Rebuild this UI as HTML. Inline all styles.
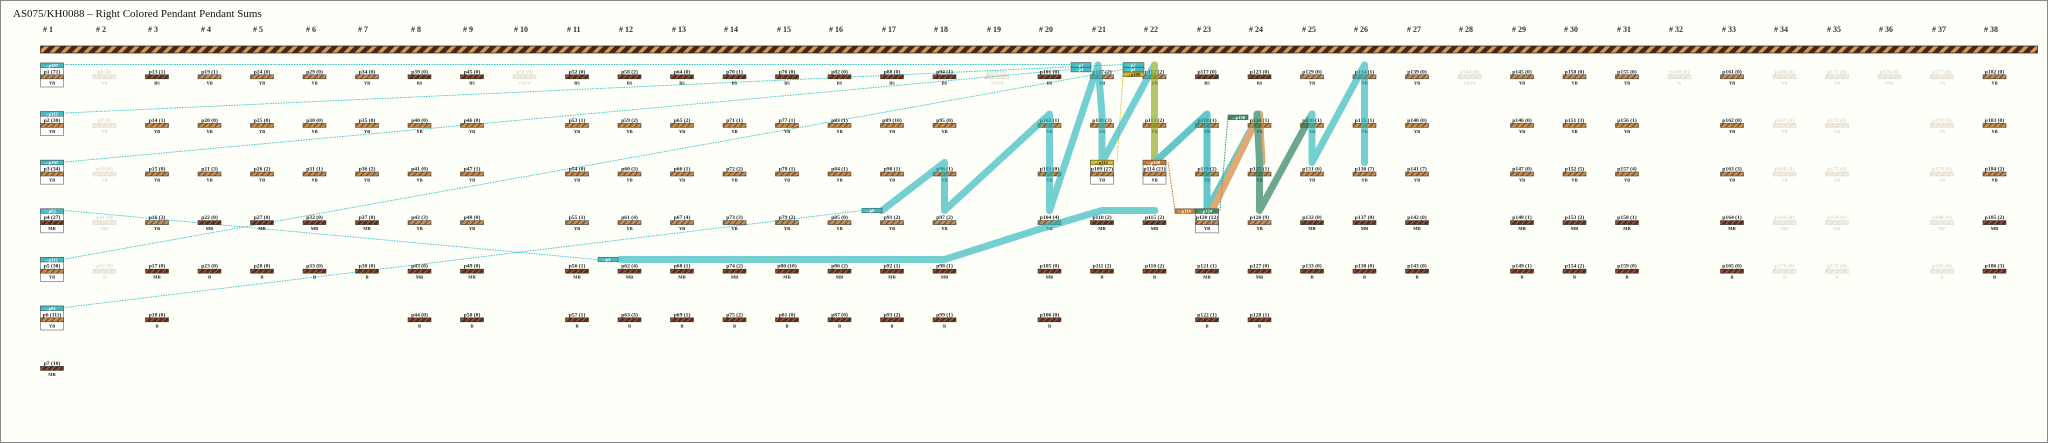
<!DOCTYPE html>
<html><head><meta charset="utf-8"><style>
body{margin:0;background:#fff}
svg{display:block}
text{font-family:"Liberation Serif",serif}
.l{font-size:5.6px;font-weight:bold;text-anchor:middle;fill:#222}
.c{font-size:4.6px;font-weight:bold;text-anchor:middle;fill:#222}
.h{font-size:8px;font-weight:bold;fill:#333}
.t{font-size:4.6px;fill:#fff;font-weight:bold}
.f{opacity:.18}
</style></head><body>
<svg width="2048" height="443" viewBox="0 0 2048 443" xmlns="http://www.w3.org/2000/svg">
<defs>
<pattern id="py" width="4" height="4" patternUnits="userSpaceOnUse" patternTransform="rotate(45)"><rect width="4" height="4" fill="#c99250"/><rect width="1.3" height="4" fill="#7a4e28"/></pattern>
<pattern id="pd" width="4" height="4" patternUnits="userSpaceOnUse" patternTransform="rotate(45)"><rect width="4" height="4" fill="#5a2c18"/><rect width="1.3" height="4" fill="#9a6238"/></pattern>
<pattern id="pc" width="8" height="8" patternUnits="userSpaceOnUse" patternTransform="rotate(45)"><rect width="8" height="8" fill="#4a2614"/><rect width="3.5" height="8" fill="#d09a58"/></pattern>
<rect id="by" x="-11.5" y="3.5" width="23" height="4" fill="url(#py)" stroke="#444" stroke-width=".6"/>
<rect id="bd" x="-11.5" y="3.5" width="23" height="4" fill="url(#pd)" stroke="#333" stroke-width=".6"/>
</defs>
<rect x="0.5" y="0.5" width="2047" height="442" fill="#fffff9" stroke="#888"/>
<text x="13" y="17" style="font-size:11px;fill:#111">AS075/KH0088 – Right Colored Pendant Pendant Sums</text>
<g class="h">
<text x="43" y="32"># 1</text><text x="96" y="32"># 2</text><text x="148" y="32"># 3</text><text x="201" y="32"># 4</text><text x="253" y="32"># 5</text><text x="306" y="32"># 6</text><text x="358" y="32"># 7</text><text x="411" y="32"># 8</text><text x="463" y="32"># 9</text><text x="514" y="32"># 10</text><text x="567" y="32"># 11</text><text x="619" y="32"># 12</text><text x="672" y="32"># 13</text><text x="724" y="32"># 14</text><text x="777" y="32"># 15</text><text x="829" y="32"># 16</text><text x="882" y="32"># 17</text><text x="934" y="32"># 18</text><text x="987" y="32"># 19</text><text x="1039" y="32"># 20</text><text x="1092" y="32"># 21</text><text x="1144" y="32"># 22</text><text x="1197" y="32"># 23</text><text x="1249" y="32"># 24</text><text x="1302" y="32"># 25</text><text x="1354" y="32"># 26</text><text x="1407" y="32"># 27</text><text x="1459" y="32"># 28</text><text x="1512" y="32"># 29</text><text x="1564" y="32"># 30</text><text x="1617" y="32"># 31</text><text x="1669" y="32"># 32</text><text x="1722" y="32"># 33</text><text x="1774" y="32"># 34</text><text x="1827" y="32"># 35</text><text x="1879" y="32"># 36</text><text x="1932" y="32"># 37</text><text x="1984" y="32"># 38</text>
</g>
<rect x="40.5" y="46" width="1997" height="7" fill="url(#pc)" stroke="#333" stroke-width=".8"/>

<!-- col1 boxes -->
<g fill="#fff" stroke="#888" stroke-width=".8">
<rect x="40.5" y="63" width="23" height="24"/><rect x="40.5" y="111.6" width="23" height="24"/><rect x="40.5" y="160.2" width="23" height="24"/><rect x="40.5" y="208.8" width="23" height="24"/><rect x="40.5" y="257.4" width="23" height="24"/><rect x="40.5" y="306" width="23" height="24"/>
<rect x="1090.5" y="160.2" width="23" height="24"/><rect x="1143" y="160.2" width="23" height="24"/><rect x="1195.5" y="208.8" width="23" height="24"/>
</g>

<!-- dotted connectors -->
<g fill="none" stroke="#3cc4c8" stroke-width=".9" stroke-dasharray="1.6 1">
<path d="M65 64.5 L1070 64.5"/><path d="M65 113 L1123 64.5"/><path d="M65 162 L1070 69.5"/><path d="M65 210.5 L597 259.5"/><path d="M65 259 L1123 69.5"/><path d="M65 307.5 L862 210.5"/>
</g>
<path d="M1123 75 L1117 162" stroke="#e0c020" stroke-width=".9" stroke-dasharray="1.6 1" fill="none"/>
<path d="M1168 162 L1175 210.5" stroke="#c06820" stroke-width=".9" stroke-dasharray="1.6 1" fill="none"/>
<path d="M1220 210.5 L1228 117" stroke="#2e8a6a" stroke-width=".9" stroke-dasharray="1.6 1" fill="none"/>

<!-- pendants -->
<g id="pend">
<g transform="translate(52,71.3)"><text class="l" y="2">p1 (71)</text><use href="#by"/><text class="c" y="13">YB</text></g>
<g transform="translate(52,119.9)"><text class="l" y="2">p2 (30)</text><use href="#by"/><text class="c" y="13">YB</text></g>
<g transform="translate(52,168.5)"><text class="l" y="2">p3 (34)</text><use href="#by"/><text class="c" y="13">YB</text></g>
<g transform="translate(52,217.1)"><text class="l" y="2">p4 (27)</text><use href="#bd"/><text class="c" y="13">MB</text></g>
<g transform="translate(52,265.7)"><text class="l" y="2">p5 (30)</text><use href="#by"/><text class="c" y="13">YB</text></g>
<g transform="translate(52,314.3)"><text class="l" y="2">p6 (111)</text><use href="#by"/><text class="c" y="13">YB</text></g>
<g transform="translate(52,362.9)"><text class="l" y="2">p7 (10)</text><use href="#bd"/><text class="c" y="13">MB</text></g>
<g class="f">
<g transform="translate(104.5,71.3)"><text class="l" y="2">p8 (0)</text><use href="#by"/><text class="c" y="13">YB</text></g>
<g transform="translate(104.5,119.9)"><text class="l" y="2">p9 (0)</text><use href="#by"/><text class="c" y="13">YB</text></g>
<g transform="translate(104.5,168.5)"><text class="l" y="2">p10 (0)</text><use href="#by"/><text class="c" y="13">YB</text></g>
<g transform="translate(104.5,217.1)"><text class="l" y="2">p11 (0)</text><use href="#by"/><text class="c" y="13">MB</text></g>
<g transform="translate(104.5,265.7)"><text class="l" y="2">p12 (0)</text><use href="#by"/><text class="c" y="13">B</text></g>
<g transform="translate(524.5,71.3)"><text class="l" y="2">p51 (0)</text><use href="#by"/><text class="c" y="13">YBYB</text></g>
<g transform="translate(997,71.3)"><text class="l" y="2">p100 (0)</text><use href="#by"/><text class="c" y="13">YBYB</text></g>
<g transform="translate(1469.5,71.3)"><text class="l" y="2">p144 (0)</text><use href="#by"/><text class="c" y="13">YBYB</text></g>
<g transform="translate(1679.5,71.3)"><text class="l" y="2">p160 (0)</text><use href="#by"/><text class="c" y="13">B</text></g>
<g transform="translate(1784.5,71.3)"><text class="l" y="2">p166 (0)</text><use href="#by"/><text class="c" y="13">YB</text></g>
<g transform="translate(1784.5,119.9)"><text class="l" y="2">p167 (0)</text><use href="#by"/><text class="c" y="13">YB</text></g>
<g transform="translate(1784.5,168.5)"><text class="l" y="2">p168 (0)</text><use href="#by"/><text class="c" y="13">YB</text></g>
<g transform="translate(1784.5,217.1)"><text class="l" y="2">p169 (0)</text><use href="#by"/><text class="c" y="13">MB</text></g>
<g transform="translate(1784.5,265.7)"><text class="l" y="2">p170 (0)</text><use href="#by"/><text class="c" y="13">B</text></g>
<g transform="translate(1837,71.3)"><text class="l" y="2">p171 (0)</text><use href="#by"/><text class="c" y="13">YB</text></g>
<g transform="translate(1837,119.9)"><text class="l" y="2">p172 (0)</text><use href="#by"/><text class="c" y="13">YB</text></g>
<g transform="translate(1837,168.5)"><text class="l" y="2">p173 (0)</text><use href="#by"/><text class="c" y="13">YB</text></g>
<g transform="translate(1837,217.1)"><text class="l" y="2">p174 (0)</text><use href="#by"/><text class="c" y="13">MB</text></g>
<g transform="translate(1837,265.7)"><text class="l" y="2">p175 (0)</text><use href="#by"/><text class="c" y="13">B</text></g>
<g transform="translate(1889.5,71.3)"><text class="l" y="2">p176 (0)</text><use href="#by"/><text class="c" y="13">YBB</text></g>
<g transform="translate(1942,71.3)"><text class="l" y="2">p177 (0)</text><use href="#by"/><text class="c" y="13">YB</text></g>
<g transform="translate(1942,119.9)"><text class="l" y="2">p178 (0)</text><use href="#by"/><text class="c" y="13">YB</text></g>
<g transform="translate(1942,168.5)"><text class="l" y="2">p179 (0)</text><use href="#by"/><text class="c" y="13">YB</text></g>
<g transform="translate(1942,217.1)"><text class="l" y="2">p180 (0)</text><use href="#by"/><text class="c" y="13">MB</text></g>
<g transform="translate(1942,265.7)"><text class="l" y="2">p181 (0)</text><use href="#by"/><text class="c" y="13">B</text></g>
</g>
<!-- col3 -->
<g transform="translate(157,71.3)"><text class="l" y="2">p13 (1)</text><use href="#bd"/><text class="c" y="13">BS</text></g>
<g transform="translate(157,119.9)"><text class="l" y="2">p14 (1)</text><use href="#by"/><text class="c" y="13">YB</text></g>
<g transform="translate(157,168.5)"><text class="l" y="2">p15 (0)</text><use href="#by"/><text class="c" y="13">YB</text></g>
<g transform="translate(157,217.1)"><text class="l" y="2">p16 (3)</text><use href="#by"/><text class="c" y="13">YB</text></g>
<g transform="translate(157,265.7)"><text class="l" y="2">p17 (0)</text><use href="#bd"/><text class="c" y="13">MB</text></g>
<g transform="translate(157,314.3)"><text class="l" y="2">p18 (0)</text><use href="#bd"/><text class="c" y="13">B</text></g>
<!-- col4 -->
<g transform="translate(209.5,71.3)"><text class="l" y="2">p19 (1)</text><use href="#by"/><text class="c" y="13">YB</text></g>
<g transform="translate(209.5,119.9)"><text class="l" y="2">p20 (0)</text><use href="#by"/><text class="c" y="13">YB</text></g>
<g transform="translate(209.5,168.5)"><text class="l" y="2">p21 (3)</text><use href="#by"/><text class="c" y="13">YB</text></g>
<g transform="translate(209.5,217.1)"><text class="l" y="2">p22 (0)</text><use href="#bd"/><text class="c" y="13">MB</text></g>
<g transform="translate(209.5,265.7)"><text class="l" y="2">p23 (0)</text><use href="#bd"/><text class="c" y="13">B</text></g>
<!-- col5 -->
<g transform="translate(262,71.3)"><text class="l" y="2">p24 (0)</text><use href="#by"/><text class="c" y="13">YB</text></g>
<g transform="translate(262,119.9)"><text class="l" y="2">p25 (0)</text><use href="#by"/><text class="c" y="13">YB</text></g>
<g transform="translate(262,168.5)"><text class="l" y="2">p26 (2)</text><use href="#by"/><text class="c" y="13">YB</text></g>
<g transform="translate(262,217.1)"><text class="l" y="2">p27 (0)</text><use href="#bd"/><text class="c" y="13">MB</text></g>
<g transform="translate(262,265.7)"><text class="l" y="2">p28 (0)</text><use href="#bd"/><text class="c" y="13">B</text></g>
<!-- col6 -->
<g transform="translate(314.5,71.3)"><text class="l" y="2">p29 (0)</text><use href="#by"/><text class="c" y="13">YB</text></g>
<g transform="translate(314.5,119.9)"><text class="l" y="2">p30 (0)</text><use href="#by"/><text class="c" y="13">YB</text></g>
<g transform="translate(314.5,168.5)"><text class="l" y="2">p31 (1)</text><use href="#by"/><text class="c" y="13">YB</text></g>
<g transform="translate(314.5,217.1)"><text class="l" y="2">p32 (0)</text><use href="#bd"/><text class="c" y="13">MB</text></g>
<g transform="translate(314.5,265.7)"><text class="l" y="2">p33 (0)</text><use href="#bd"/><text class="c" y="13">B</text></g>
<!-- col7 -->
<g transform="translate(367,71.3)"><text class="l" y="2">p34 (0)</text><use href="#by"/><text class="c" y="13">YB</text></g>
<g transform="translate(367,119.9)"><text class="l" y="2">p35 (0)</text><use href="#by"/><text class="c" y="13">YB</text></g>
<g transform="translate(367,168.5)"><text class="l" y="2">p36 (2)</text><use href="#by"/><text class="c" y="13">YB</text></g>
<g transform="translate(367,217.1)"><text class="l" y="2">p37 (0)</text><use href="#bd"/><text class="c" y="13">MB</text></g>
<g transform="translate(367,265.7)"><text class="l" y="2">p38 (0)</text><use href="#bd"/><text class="c" y="13">B</text></g>
<!-- col8 -->
<g transform="translate(419.5,71.3)"><text class="l" y="2">p39 (0)</text><use href="#bd"/><text class="c" y="13">BS</text></g>
<g transform="translate(419.5,119.9)"><text class="l" y="2">p40 (0)</text><use href="#by"/><text class="c" y="13">YB</text></g>
<g transform="translate(419.5,168.5)"><text class="l" y="2">p41 (0)</text><use href="#by"/><text class="c" y="13">YB</text></g>
<g transform="translate(419.5,217.1)"><text class="l" y="2">p42 (3)</text><use href="#by"/><text class="c" y="13">YB</text></g>
<g transform="translate(419.5,265.7)"><text class="l" y="2">p43 (0)</text><use href="#bd"/><text class="c" y="13">MB</text></g>
<g transform="translate(419.5,314.3)"><text class="l" y="2">p44 (0)</text><use href="#bd"/><text class="c" y="13">B</text></g>
<!-- col9 -->
<g transform="translate(472,71.3)"><text class="l" y="2">p45 (0)</text><use href="#bd"/><text class="c" y="13">BS</text></g>
<g transform="translate(472,119.9)"><text class="l" y="2">p46 (0)</text><use href="#by"/><text class="c" y="13">YB</text></g>
<g transform="translate(472,168.5)"><text class="l" y="2">p47 (1)</text><use href="#by"/><text class="c" y="13">YB</text></g>
<g transform="translate(472,217.1)"><text class="l" y="2">p48 (0)</text><use href="#by"/><text class="c" y="13">YB</text></g>
<g transform="translate(472,265.7)"><text class="l" y="2">p49 (0)</text><use href="#bd"/><text class="c" y="13">MB</text></g>
<g transform="translate(472,314.3)"><text class="l" y="2">p50 (0)</text><use href="#bd"/><text class="c" y="13">B</text></g>
<!-- col11 -->
<g transform="translate(577,71.3)"><text class="l" y="2">p52 (0)</text><use href="#bd"/><text class="c" y="13">BS</text></g>
<g transform="translate(577,119.9)"><text class="l" y="2">p53 (1)</text><use href="#by"/><text class="c" y="13">YB</text></g>
<g transform="translate(577,168.5)"><text class="l" y="2">p54 (0)</text><use href="#by"/><text class="c" y="13">YB</text></g>
<g transform="translate(577,217.1)"><text class="l" y="2">p55 (1)</text><use href="#by"/><text class="c" y="13">YB</text></g>
<g transform="translate(577,265.7)"><text class="l" y="2">p56 (1)</text><use href="#bd"/><text class="c" y="13">MB</text></g>
<g transform="translate(577,314.3)"><text class="l" y="2">p57 (1)</text><use href="#bd"/><text class="c" y="13">B</text></g>
<!-- col12 -->
<g transform="translate(629.5,71.3)"><text class="l" y="2">p58 (2)</text><use href="#bd"/><text class="c" y="13">BS</text></g>
<g transform="translate(629.5,119.9)"><text class="l" y="2">p59 (2)</text><use href="#by"/><text class="c" y="13">YB</text></g>
<g transform="translate(629.5,168.5)"><text class="l" y="2">p60 (3)</text><use href="#by"/><text class="c" y="13">YB</text></g>
<g transform="translate(629.5,217.1)"><text class="l" y="2">p61 (4)</text><use href="#by"/><text class="c" y="13">YB</text></g>
<g transform="translate(629.5,265.7)"><text class="l" y="2">p62 (4)</text><use href="#bd"/><text class="c" y="13">MB</text></g>
<g transform="translate(629.5,314.3)"><text class="l" y="2">p63 (3)</text><use href="#bd"/><text class="c" y="13">B</text></g>
<!-- col13 -->
<g transform="translate(682,71.3)"><text class="l" y="2">p64 (0)</text><use href="#bd"/><text class="c" y="13">BS</text></g>
<g transform="translate(682,119.9)"><text class="l" y="2">p65 (2)</text><use href="#by"/><text class="c" y="13">YB</text></g>
<g transform="translate(682,168.5)"><text class="l" y="2">p66 (1)</text><use href="#by"/><text class="c" y="13">YB</text></g>
<g transform="translate(682,217.1)"><text class="l" y="2">p67 (4)</text><use href="#by"/><text class="c" y="13">YB</text></g>
<g transform="translate(682,265.7)"><text class="l" y="2">p68 (1)</text><use href="#bd"/><text class="c" y="13">MB</text></g>
<g transform="translate(682,314.3)"><text class="l" y="2">p69 (1)</text><use href="#bd"/><text class="c" y="13">B</text></g>
<!-- col14 -->
<g transform="translate(734.5,71.3)"><text class="l" y="2">p70 (1)</text><use href="#bd"/><text class="c" y="13">BS</text></g>
<g transform="translate(734.5,119.9)"><text class="l" y="2">p71 (1)</text><use href="#by"/><text class="c" y="13">YB</text></g>
<g transform="translate(734.5,168.5)"><text class="l" y="2">p72 (2)</text><use href="#by"/><text class="c" y="13">YB</text></g>
<g transform="translate(734.5,217.1)"><text class="l" y="2">p73 (3)</text><use href="#by"/><text class="c" y="13">YB</text></g>
<g transform="translate(734.5,265.7)"><text class="l" y="2">p74 (2)</text><use href="#bd"/><text class="c" y="13">MB</text></g>
<g transform="translate(734.5,314.3)"><text class="l" y="2">p75 (2)</text><use href="#bd"/><text class="c" y="13">B</text></g>
<!-- col15 -->
<g transform="translate(787,71.3)"><text class="l" y="2">p76 (0)</text><use href="#bd"/><text class="c" y="13">BS</text></g>
<g transform="translate(787,119.9)"><text class="l" y="2">p77 (1)</text><use href="#by"/><text class="c" y="13">YB</text></g>
<g transform="translate(787,168.5)"><text class="l" y="2">p78 (1)</text><use href="#by"/><text class="c" y="13">YB</text></g>
<g transform="translate(787,217.1)"><text class="l" y="2">p79 (2)</text><use href="#by"/><text class="c" y="13">YB</text></g>
<g transform="translate(787,265.7)"><text class="l" y="2">p80 (10)</text><use href="#bd"/><text class="c" y="13">MB</text></g>
<g transform="translate(787,314.3)"><text class="l" y="2">p81 (0)</text><use href="#bd"/><text class="c" y="13">B</text></g>
<!-- col16 -->
<g transform="translate(839.5,71.3)"><text class="l" y="2">p82 (0)</text><use href="#bd"/><text class="c" y="13">BS</text></g>
<g transform="translate(839.5,119.9)"><text class="l" y="2">p83 (1)</text><use href="#by"/><text class="c" y="13">YB</text></g>
<g transform="translate(839.5,168.5)"><text class="l" y="2">p84 (1)</text><use href="#by"/><text class="c" y="13">YB</text></g>
<g transform="translate(839.5,217.1)"><text class="l" y="2">p85 (0)</text><use href="#by"/><text class="c" y="13">YB</text></g>
<g transform="translate(839.5,265.7)"><text class="l" y="2">p86 (2)</text><use href="#bd"/><text class="c" y="13">MB</text></g>
<g transform="translate(839.5,314.3)"><text class="l" y="2">p87 (0)</text><use href="#bd"/><text class="c" y="13">B</text></g>
<!-- col17 -->
<g transform="translate(892,71.3)"><text class="l" y="2">p88 (0)</text><use href="#bd"/><text class="c" y="13">BS</text></g>
<g transform="translate(892,119.9)"><text class="l" y="2">p89 (10)</text><use href="#by"/><text class="c" y="13">YB</text></g>
<g transform="translate(892,168.5)"><text class="l" y="2">p90 (1)</text><use href="#by"/><text class="c" y="13">YB</text></g>
<g transform="translate(892,217.1)"><text class="l" y="2">p91 (2)</text><use href="#by"/><text class="c" y="13">YB</text></g>
<g transform="translate(892,265.7)"><text class="l" y="2">p92 (1)</text><use href="#bd"/><text class="c" y="13">MB</text></g>
<g transform="translate(892,314.3)"><text class="l" y="2">p93 (2)</text><use href="#bd"/><text class="c" y="13">B</text></g>
<!-- col18 -->
<g transform="translate(944.5,71.3)"><text class="l" y="2">p94 (1)</text><use href="#bd"/><text class="c" y="13">BS</text></g>
<g transform="translate(944.5,119.9)"><text class="l" y="2">p95 (0)</text><use href="#by"/><text class="c" y="13">YB</text></g>
<g transform="translate(944.5,168.5)"><text class="l" y="2">p96 (1)</text><use href="#by"/><text class="c" y="13">YB</text></g>
<g transform="translate(944.5,217.1)"><text class="l" y="2">p97 (2)</text><use href="#by"/><text class="c" y="13">YB</text></g>
<g transform="translate(944.5,265.7)"><text class="l" y="2">p98 (1)</text><use href="#bd"/><text class="c" y="13">MB</text></g>
<g transform="translate(944.5,314.3)"><text class="l" y="2">p99 (1)</text><use href="#bd"/><text class="c" y="13">B</text></g>
<!-- col20 -->
<g transform="translate(1049.5,71.3)"><text class="l" y="2">p101 (0)</text><use href="#bd"/><text class="c" y="13">BS</text></g>
<g transform="translate(1049.5,119.9)"><text class="l" y="2">p102 (1)</text><use href="#by"/><text class="c" y="13">YB</text></g>
<g transform="translate(1049.5,168.5)"><text class="l" y="2">p103 (0)</text><use href="#by"/><text class="c" y="13">YB</text></g>
<g transform="translate(1049.5,217.1)"><text class="l" y="2">p104 (4)</text><use href="#by"/><text class="c" y="13">YB</text></g>
<g transform="translate(1049.5,265.7)"><text class="l" y="2">p105 (0)</text><use href="#bd"/><text class="c" y="13">MB</text></g>
<g transform="translate(1049.5,314.3)"><text class="l" y="2">p106 (0)</text><use href="#bd"/><text class="c" y="13">B</text></g>
<!-- col21 -->
<g transform="translate(1102,71.3)"><text class="l" y="2">p107 (2)</text><use href="#by"/><text class="c" y="13">YB</text></g>
<g transform="translate(1102,119.9)"><text class="l" y="2">p108 (3)</text><use href="#by"/><text class="c" y="13">YB</text></g>
<g transform="translate(1102,168.5)"><text class="l" y="2">p109 (27)</text><use href="#by"/><text class="c" y="13">YB</text></g>
<g transform="translate(1102,217.1)"><text class="l" y="2">p110 (2)</text><use href="#bd"/><text class="c" y="13">MB</text></g>
<g transform="translate(1102,265.7)"><text class="l" y="2">p111 (2)</text><use href="#bd"/><text class="c" y="13">B</text></g>
<!-- col22 -->
<g transform="translate(1154.5,71.3)"><text class="l" y="2">p112 (2)</text><use href="#by"/><text class="c" y="13">YB</text></g>
<g transform="translate(1154.5,119.9)"><text class="l" y="2">p113 (2)</text><use href="#by"/><text class="c" y="13">YB</text></g>
<g transform="translate(1154.5,168.5)"><text class="l" y="2">p114 (21)</text><use href="#by"/><text class="c" y="13">YB</text></g>
<g transform="translate(1154.5,217.1)"><text class="l" y="2">p115 (2)</text><use href="#bd"/><text class="c" y="13">MB</text></g>
<g transform="translate(1154.5,265.7)"><text class="l" y="2">p116 (2)</text><use href="#bd"/><text class="c" y="13">B</text></g>
<!-- col23 -->
<g transform="translate(1207,71.3)"><text class="l" y="2">p117 (0)</text><use href="#bd"/><text class="c" y="13">BS</text></g>
<g transform="translate(1207,119.9)"><text class="l" y="2">p118 (1)</text><use href="#by"/><text class="c" y="13">YB</text></g>
<g transform="translate(1207,168.5)"><text class="l" y="2">p119 (2)</text><use href="#by"/><text class="c" y="13">YB</text></g>
<g transform="translate(1207,217.1)"><text class="l" y="2">p120 (12)</text><use href="#by"/><text class="c" y="13">YB</text></g>
<g transform="translate(1207,265.7)"><text class="l" y="2">p121 (1)</text><use href="#bd"/><text class="c" y="13">MB</text></g>
<g transform="translate(1207,314.3)"><text class="l" y="2">p122 (1)</text><use href="#bd"/><text class="c" y="13">B</text></g>
<!-- col24 -->
<g transform="translate(1259.5,71.3)"><text class="l" y="2">p123 (0)</text><use href="#bd"/><text class="c" y="13">BS</text></g>
<g transform="translate(1259.5,119.9)"><text class="l" y="2">p124 (1)</text><use href="#by"/><text class="c" y="13">YB</text></g>
<g transform="translate(1259.5,168.5)"><text class="l" y="2">p125 (1)</text><use href="#by"/><text class="c" y="13">YB</text></g>
<g transform="translate(1259.5,217.1)"><text class="l" y="2">p126 (9)</text><use href="#by"/><text class="c" y="13">YB</text></g>
<g transform="translate(1259.5,265.7)"><text class="l" y="2">p127 (0)</text><use href="#bd"/><text class="c" y="13">MB</text></g>
<g transform="translate(1259.5,314.3)"><text class="l" y="2">p128 (1)</text><use href="#bd"/><text class="c" y="13">B</text></g>
<!-- col25 -->
<g transform="translate(1312,71.3)"><text class="l" y="2">p129 (0)</text><use href="#by"/><text class="c" y="13">YB</text></g>
<g transform="translate(1312,119.9)"><text class="l" y="2">p130 (1)</text><use href="#by"/><text class="c" y="13">YB</text></g>
<g transform="translate(1312,168.5)"><text class="l" y="2">p131 (6)</text><use href="#by"/><text class="c" y="13">YB</text></g>
<g transform="translate(1312,217.1)"><text class="l" y="2">p132 (0)</text><use href="#bd"/><text class="c" y="13">MB</text></g>
<g transform="translate(1312,265.7)"><text class="l" y="2">p133 (0)</text><use href="#bd"/><text class="c" y="13">B</text></g>
<!-- col26 -->
<g transform="translate(1364.5,71.3)"><text class="l" y="2">p134 (1)</text><use href="#by"/><text class="c" y="13">YB</text></g>
<g transform="translate(1364.5,119.9)"><text class="l" y="2">p135 (1)</text><use href="#by"/><text class="c" y="13">YB</text></g>
<g transform="translate(1364.5,168.5)"><text class="l" y="2">p136 (7)</text><use href="#by"/><text class="c" y="13">YB</text></g>
<g transform="translate(1364.5,217.1)"><text class="l" y="2">p137 (0)</text><use href="#bd"/><text class="c" y="13">MB</text></g>
<g transform="translate(1364.5,265.7)"><text class="l" y="2">p138 (0)</text><use href="#bd"/><text class="c" y="13">B</text></g>
<!-- col27 -->
<g transform="translate(1417,71.3)"><text class="l" y="2">p139 (0)</text><use href="#by"/><text class="c" y="13">YB</text></g>
<g transform="translate(1417,119.9)"><text class="l" y="2">p140 (0)</text><use href="#by"/><text class="c" y="13">YB</text></g>
<g transform="translate(1417,168.5)"><text class="l" y="2">p141 (7)</text><use href="#by"/><text class="c" y="13">YB</text></g>
<g transform="translate(1417,217.1)"><text class="l" y="2">p142 (0)</text><use href="#bd"/><text class="c" y="13">MB</text></g>
<g transform="translate(1417,265.7)"><text class="l" y="2">p143 (0)</text><use href="#bd"/><text class="c" y="13">B</text></g>
<!-- col29 -->
<g transform="translate(1522,71.3)"><text class="l" y="2">p145 (0)</text><use href="#by"/><text class="c" y="13">YB</text></g>
<g transform="translate(1522,119.9)"><text class="l" y="2">p146 (0)</text><use href="#by"/><text class="c" y="13">YB</text></g>
<g transform="translate(1522,168.5)"><text class="l" y="2">p147 (0)</text><use href="#by"/><text class="c" y="13">YB</text></g>
<g transform="translate(1522,217.1)"><text class="l" y="2">p148 (1)</text><use href="#bd"/><text class="c" y="13">MB</text></g>
<g transform="translate(1522,265.7)"><text class="l" y="2">p149 (1)</text><use href="#bd"/><text class="c" y="13">B</text></g>
<!-- col30 -->
<g transform="translate(1574.5,71.3)"><text class="l" y="2">p150 (0)</text><use href="#by"/><text class="c" y="13">YB</text></g>
<g transform="translate(1574.5,119.9)"><text class="l" y="2">p151 (3)</text><use href="#by"/><text class="c" y="13">YB</text></g>
<g transform="translate(1574.5,168.5)"><text class="l" y="2">p152 (5)</text><use href="#by"/><text class="c" y="13">YB</text></g>
<g transform="translate(1574.5,217.1)"><text class="l" y="2">p153 (2)</text><use href="#bd"/><text class="c" y="13">MB</text></g>
<g transform="translate(1574.5,265.7)"><text class="l" y="2">p154 (2)</text><use href="#bd"/><text class="c" y="13">B</text></g>
<!-- col31 -->
<g transform="translate(1627,71.3)"><text class="l" y="2">p155 (0)</text><use href="#by"/><text class="c" y="13">YB</text></g>
<g transform="translate(1627,119.9)"><text class="l" y="2">p156 (1)</text><use href="#by"/><text class="c" y="13">YB</text></g>
<g transform="translate(1627,168.5)"><text class="l" y="2">p157 (4)</text><use href="#by"/><text class="c" y="13">YB</text></g>
<g transform="translate(1627,217.1)"><text class="l" y="2">p158 (1)</text><use href="#bd"/><text class="c" y="13">MB</text></g>
<g transform="translate(1627,265.7)"><text class="l" y="2">p159 (0)</text><use href="#bd"/><text class="c" y="13">B</text></g>
<!-- col33 -->
<g transform="translate(1732,71.3)"><text class="l" y="2">p161 (0)</text><use href="#by"/><text class="c" y="13">YB</text></g>
<g transform="translate(1732,119.9)"><text class="l" y="2">p162 (0)</text><use href="#by"/><text class="c" y="13">YB</text></g>
<g transform="translate(1732,168.5)"><text class="l" y="2">p163 (3)</text><use href="#by"/><text class="c" y="13">YB</text></g>
<g transform="translate(1732,217.1)"><text class="l" y="2">p164 (1)</text><use href="#bd"/><text class="c" y="13">MB</text></g>
<g transform="translate(1732,265.7)"><text class="l" y="2">p165 (0)</text><use href="#bd"/><text class="c" y="13">B</text></g>
<!-- col38 -->
<g transform="translate(1994.5,71.3)"><text class="l" y="2">p182 (0)</text><use href="#by"/><text class="c" y="13">YB</text></g>
<g transform="translate(1994.5,119.9)"><text class="l" y="2">p183 (0)</text><use href="#by"/><text class="c" y="13">YB</text></g>
<g transform="translate(1994.5,168.5)"><text class="l" y="2">p184 (2)</text><use href="#by"/><text class="c" y="13">YB</text></g>
<g transform="translate(1994.5,217.1)"><text class="l" y="2">p185 (2)</text><use href="#bd"/><text class="c" y="13">MB</text></g>
<g transform="translate(1994.5,265.7)"><text class="l" y="2">p186 (3)</text><use href="#bd"/><text class="c" y="13">B</text></g>
</g>

<!-- thick bands -->
<g fill="none" stroke-linecap="round" stroke-linejoin="round" stroke-width="7" opacity=".65">
<path d="M882 210.5 L944.5 162.5 L944.5 210.5 L1049.5 114 L1049.5 210.5 L1098 65 L1102 114 L1102 162.5 L1154.5 65" stroke="#2ab5bc"/>
<path d="M620 259.5 L944.5 259.5 L1049.5 226 L1102 210.5 L1155 210.5" stroke="#2ab5bc"/>
<path d="M1154.5 65 L1154.5 114 L1154.5 162.5" stroke="#8aa818"/>
<path d="M1154.5 162.5 L1207 114 L1207 162.5 L1207 210.5 L1259.5 114" stroke="#10a8b0"/>
<path d="M1212 210.5 L1259.5 114 L1262 162.5" stroke="#d07c28"/>
<path d="M1257 114 L1259.5 162.5 L1259.5 210.5 L1312 114" stroke="#1e7a58"/>
<path d="M1312 114 L1312 162.5 L1364.5 65 L1364.5 114 L1364.5 162.5" stroke="#2ab5bc"/>
</g>

<!-- tags -->
<g stroke="#444" stroke-width=".5">
<rect x="40.5" y="63" width="23" height="4.6" fill="#44bcc4"/>
<rect x="40.5" y="111.6" width="23" height="4.6" fill="#44bcc4"/>
<rect x="40.5" y="160.2" width="23" height="4.6" fill="#44bcc4"/>
<rect x="40.5" y="208.8" width="23" height="4.6" fill="#44bcc4"/>
<rect x="40.5" y="257.4" width="23" height="4.6" fill="#44bcc4"/>
<rect x="40.5" y="306" width="23" height="4.6" fill="#44bcc4"/>
<rect x="1071" y="62.5" width="20" height="4.6" fill="#44bcc4"/>
<rect x="1071" y="67.3" width="20" height="4.6" fill="#44bcc4"/>
<rect x="1123" y="62.5" width="21" height="4.6" fill="#44bcc4"/>
<rect x="1123" y="67.3" width="21" height="4.6" fill="#44bcc4"/>
<rect x="1123" y="72.1" width="21" height="4.6" fill="#d8b820"/>
<rect x="598" y="257.2" width="20" height="4.6" fill="#44bcc4"/>
<rect x="862" y="208.2" width="20" height="4.6" fill="#44bcc4"/>
<rect x="1090.5" y="160.2" width="23" height="4.6" fill="#d8c020"/>
<rect x="1143" y="160.2" width="23" height="4.6" fill="#d07828"/>
<rect x="1195.5" y="208.8" width="23" height="4.6" fill="#3a8a68"/>
<rect x="1175" y="208.8" width="20" height="4.6" fill="#d07828"/>
<rect x="1228" y="115" width="20" height="4.6" fill="#3a8a68"/>
</g>
<g class="t">
<text x="44" y="66.9">→p107</text><text x="44" y="115.5">→p112</text><text x="44" y="164.1">→p107</text><text x="44" y="212.7">→p62</text><text x="44" y="261.3">→p112</text><text x="44" y="309.9">→p91</text>
<text x="1074" y="66.4">→p1</text><text x="1074" y="71.2">→p3</text><text x="1126" y="66.4">→p2</text><text x="1126" y="71.2">→p5</text><text x="1126" y="76" style="fill:#222">→p109</text>
<text x="601" y="261.1">→p4</text><text x="865" y="212.1">→p6</text>
<text x="1094" y="164.1" style="fill:#222">→p112</text><text x="1146" y="164.1">→p120</text><text x="1198" y="212.7">→p124</text><text x="1177" y="212.7">→p114</text><text x="1231" y="118.9">→p120</text>
</g>
</svg>
</body></html>
